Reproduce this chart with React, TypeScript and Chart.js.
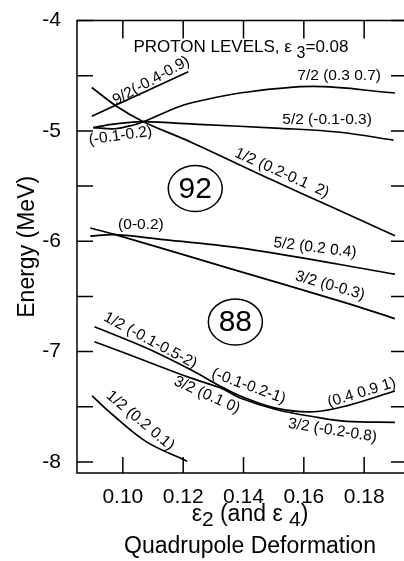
import React, { useEffect, useRef } from 'react';
import { Chart, registerables } from 'chart.js';
Chart.register(...registerables);

const FAMILY = '"Liberation Sans", Arial, Helvetica, sans-serif';

// axis setup
const xTicks = [0.10, 0.12, 0.14, 0.16, 0.18];
const yTicks = [-8, -7.5, -7, -6.5, -6, -5.5, -5, -4.5, -4];
const xMin = 0.0848;
const xMax = 0.1942;
const yMin = -8.1;
const yMax = -4;

// level curves (epsilon2, energy MeV)
const nineHalfX = [0.0897, 0.1217];
const nineHalfY = [-4.866, -4.463];

const oneHalfTopX = [0.0897, 0.0979, 0.1068, 0.1228, 0.1495, 0.1687, 0.1902];
const oneHalfTopY = [-4.606, -4.776, -4.916, -5.104, -5.445, -5.683, -5.949];

const sevenHalfX = [0.0902, 0.0974, 0.1035, 0.1068, 0.1190, 0.1250, 0.1389, 0.1631, 0.1902];
const sevenHalfY = [-4.970, -4.980, -4.946, -4.916, -4.776, -4.731, -4.656, -4.597, -4.656];

const fiveHalfTopX = [0.0902, 0.0963, 0.1025, 0.1068, 0.1250, 0.1522, 0.1720, 0.1897];
const fiveHalfTopY = [-4.970, -4.940, -4.922, -4.916, -4.940, -4.976, -5.012, -5.083];

const fiveHalfMidX = [0.0892, 0.0975, 0.1135, 0.1411, 0.1902];
const fiveHalfMidY = [-5.954, -5.940, -5.985, -6.068, -6.298];

const threeHalfMidX = [0.0892, 0.0975, 0.1353, 0.1731, 0.1902];
const threeHalfMidY = [-5.880, -5.940, -6.245, -6.551, -6.701];

const oneHalfLowX = [0.0906, 0.1080, 0.1224, 0.1323, 0.1389, 0.1511, 0.1632, 0.1742, 0.1902];
const oneHalfLowY = [-6.775, -6.970, -7.163, -7.313, -7.402, -7.514, -7.545, -7.491, -7.357];

const threeHalfLowX = [0.0906, 0.1080, 0.1224, 0.1323, 0.1389, 0.1511, 0.1632, 0.1742, 0.1902];
const threeHalfLowY = [-6.910, -7.089, -7.238, -7.328, -7.420, -7.527, -7.590, -7.632, -7.641];

const oneHalfBottomX = [0.0898, 0.0970, 0.1080, 0.1213];
const oneHalfBottomY = [-7.402, -7.581, -7.820, -7.993];

const curvesX = [nineHalfX, oneHalfTopX, sevenHalfX, fiveHalfTopX, fiveHalfMidX, threeHalfMidX, oneHalfLowX, threeHalfLowX, oneHalfBottomX];
const curvesY = [nineHalfY, oneHalfTopY, sevenHalfY, fiveHalfTopY, fiveHalfMidY, threeHalfMidY, oneHalfLowY, threeHalfLowY, oneHalfBottomY];

// curve labels
const labelTexts = [
  '9/2(-0.4-0.9)', '7/2 (0.3 0.7)', '5/2 (-0.1-0.3)', '(-0.1-0.2)', '1/2 (0.2-0.1  2)',
  '(0-0.2)', '5/2 (0.2 0.4)', '3/2 (0-0.3)', '1/2 (-0.1-0.5-2)', '(-0.1-0.2-1)',
  '3/2 (0.1 0)', '(0.4 0.9 1)', '3/2 (-0.2-0.8)', '1/2 (0.2 0.1)',
];
const labelX = [0.1094, 0.1717, 0.1677, 0.0992, 0.1527, 0.1060, 0.1637, 0.1687, 0.1091, 0.1417, 0.1279, 0.1792, 0.1695, 0.1058];
const labelY = [-4.546, -4.501, -4.895, -5.044, -5.381, -5.851, -6.059, -6.402, -6.900, -7.313, -7.393, -7.372, -7.715, -7.626];
const labelAngle = [-29, 0, 0, -8, 24, 0, 7, 16, 28, 20, 24, -17, 9, 40];

// shell gap circles
const gapTexts = ['92', '88'];
const gapX = [0.1240, 0.1373];
const gapY = [-5.522, -6.731];

// heading
const headingX = 0.1035;
const headingY = -4.286;

const font = (s: number) => `${s}px ${FAMILY}`;

const annotate = {
  id: 'annotate',
  afterDatasetsDraw(chart: any) {
    const { ctx, chartArea: a, scales } = chart;
    const xs = scales.x;
    const ys = scales.y;
    ctx.save();
    ctx.strokeStyle = '#000';
    ctx.fillStyle = '#000';
    ctx.lineWidth = 1.5;
    // frame
    ctx.beginPath();
    ctx.rect(a.left, a.top, a.right - a.left, a.bottom - a.top);
    ctx.stroke();
    // inward ticks
    ctx.beginPath();
    xTicks.forEach((v) => {
      const p = xs.getPixelForValue(v);
      ctx.moveTo(p, a.bottom);
      ctx.lineTo(p, a.bottom - 16);
      ctx.moveTo(p, a.top);
      ctx.lineTo(p, a.top + 18);
    });
    yTicks.forEach((v) => {
      const p = ys.getPixelForValue(v);
      ctx.moveTo(a.left, p);
      ctx.lineTo(a.left + 16, p);
      ctx.moveTo(a.right, p);
      ctx.lineTo(a.right - 16, p);
    });
    ctx.stroke();

    // curve labels
    ctx.font = font(15.5);
    ctx.textAlign = 'center';
    ctx.textBaseline = 'middle';
    labelTexts.forEach((t, i) => {
      ctx.save();
      ctx.translate(xs.getPixelForValue(labelX[i]), ys.getPixelForValue(labelY[i]));
      ctx.rotate((labelAngle[i] * Math.PI) / 180);
      ctx.fillText(t, 0, 0);
      ctx.restore();
    });

    // gap circles
    gapTexts.forEach((t, i) => {
      const cx = xs.getPixelForValue(gapX[i]);
      const cy = ys.getPixelForValue(gapY[i]);
      ctx.beginPath();
      ctx.ellipse(cx, cy, 27, 23, 0, 0, Math.PI * 2);
      ctx.lineWidth = 1.5;
      ctx.stroke();
      ctx.font = font(30);
      ctx.textAlign = 'center';
      ctx.textBaseline = 'middle';
      ctx.fillText(t, cx, cy + 1);
    });

    // heading with subscript
    ctx.textAlign = 'left';
    ctx.textBaseline = 'alphabetic';
    let hx = xs.getPixelForValue(headingX);
    const hy = ys.getPixelForValue(headingY);
    const parts: [string, number, number][] = [
      ['PROTON LEVELS, \u03b5 ', 17, 0],
      ['3', 16, 6],
      ['=0.08', 17, 0],
    ];
    parts.forEach(([t, s, off]) => {
      ctx.font = font(s);
      ctx.fillText(t, hx, hy + off);
      hx += ctx.measureText(t).width;
    });

    // y title
    ctx.save();
    ctx.translate(28, (a.top + a.bottom) / 2);
    ctx.rotate(-Math.PI / 2);
    ctx.font = font(23);
    ctx.textAlign = 'center';
    ctx.textBaseline = 'middle';
    ctx.fillText('Energy (MeV)', 0, 0);
    ctx.restore();

    // x title line 1 with subscripts
    const line1: [string, number, number][] = [
      ['\u03b5', 23, 0],
      ['2', 21, 5],
      [' (and \u03b5 ', 23, 0],
      ['4', 21, 5],
      [')', 23, 0],
    ];
    let w = 0;
    line1.forEach(([t, s]) => {
      ctx.font = font(s);
      w += ctx.measureText(t).width;
    });
    const cxTitle = 250;
    let lx = cxTitle - w / 2;
    ctx.textAlign = 'left';
    ctx.textBaseline = 'alphabetic';
    line1.forEach(([t, s, off]) => {
      ctx.font = font(s);
      ctx.fillText(t, lx, 521 + off);
      lx += ctx.measureText(t).width;
    });
    ctx.font = font(23);
    ctx.textAlign = 'center';
    ctx.fillText('Quadrupole Deformation', cxTitle, 553);
    ctx.restore();
  },
};

export default function App() {
  const ref = useRef<HTMLCanvasElement | null>(null);
  useEffect(() => {
    document.body.style.margin = '0';
    document.body.style.overflow = 'hidden';
    document.documentElement.style.overflow = 'hidden';
    if (!ref.current) return;
    const datasets = curvesX.map((xsArr, i) => ({
      data: xsArr.map((x, j) => ({ x, y: curvesY[i][j] })),
      borderColor: '#000',
      borderWidth: 1.7,
      pointRadius: 0,
      tension: 0.35,
      fill: false,
    }));
    const chart = new Chart(ref.current, {
      type: 'line',
      data: { datasets },
      options: {
        animation: false,
        responsive: false,
        maintainAspectRatio: false,
        layout: { padding: { left: 0, top: 15, right: 5, bottom: 0 } },
        plugins: { legend: { display: false }, tooltip: { enabled: false } },
        scales: {
          x: {
            type: 'linear',
            min: xMin,
            max: xMax,
            grid: { display: false },
            border: { display: false },
            afterBuildTicks: (s: any) => {
              s.ticks = xTicks.map((v) => ({ value: v }));
            },
            afterFit: (s: any) => {
              s.height = 88;
            },
            ticks: {
              callback: (v: any) => Number(v).toFixed(2),
              font: { size: 21, family: FAMILY },
              color: '#000',
              padding: 4,
              maxRotation: 0,
              autoSkip: false,
            },
          },
          y: {
            type: 'linear',
            min: yMin,
            max: yMax,
            grid: { display: false },
            border: { display: false },
            afterBuildTicks: (s: any) => {
              s.ticks = yTicks.map((v) => ({ value: v }));
            },
            afterFit: (s: any) => {
              s.width = 77;
            },
            ticks: {
              callback: (v: any) => (Number.isInteger(Number(v)) ? String(v) : ''),
              font: { size: 21, family: FAMILY },
              color: '#000',
              padding: 8,
              autoSkip: false,
            },
          },
        },
      } as any,
      plugins: [annotate],
    });
    return () => chart.destroy();
  }, []);
  return (
    <div style={{ width: 404, height: 561, overflow: 'hidden', background: '#fff' }}>
      <canvas ref={ref} width={412} height={561} style={{ display: 'block' }} />
    </div>
  );
}
